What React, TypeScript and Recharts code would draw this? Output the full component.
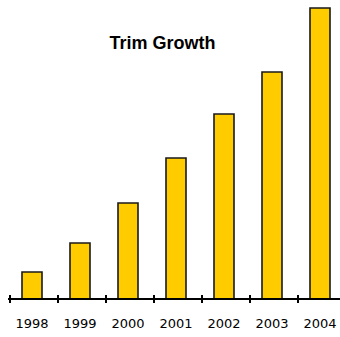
import React from 'react';
import { BarChart, Bar, XAxis, YAxis } from 'recharts';

const categories = ['1998', '1999', '2000', '2001', '2002', '2003', '2004'];
const values = [27, 56, 96, 141, 185, 227, 291];
const title = 'Trim Growth';

const data = categories.map((c, i) => ({ year: c, value: values[i] }));

const YearTick = (props: any) => {
  const { x, y, payload } = props;
  const off = payload && payload.offset ? payload.offset : 24;
  return (
    <g>
      <line x1={x - off + 2} x2={x - off + 2} y1={y - 4} y2={y + 4} stroke="#000" strokeWidth={2} />
      <text x={x} y={y + 29} textAnchor="middle" fontFamily="DejaVu Sans" fontSize={13} fill="#000">
        {payload.value}
      </text>
    </g>
  );
};

export default function App() {
  return (
    <div style={{ position: 'absolute', left: 0, top: 0, width: 340, height: 337, overflow: 'hidden', background: '#fff' }}>
      <div
        style={{
          position: 'absolute',
          left: 0,
          width: 325,
          top: 33,
          textAlign: 'center',
          fontFamily: 'Liberation Sans',
          fontWeight: 'bold',
          fontSize: 18,
          lineHeight: '20px',
          color: '#000',
        }}
      >
        {title}
      </div>
      <BarChart width={344} height={337} data={data} margin={{ top: 8, right: 0, left: 8, bottom: 8 }} barCategoryGap={0}>
        <YAxis hide domain={[0, 291]} />
        <XAxis
          dataKey="year"
          height={30}
          axisLine={{ stroke: '#000', strokeWidth: 2 }}
          tickLine={false}
          tickSize={0}
          tickMargin={0}
          tick={<YearTick />}
          interval={0}
        />
        <Bar dataKey="value" fill="#FFCC00" stroke="#1a1a1a" strokeWidth={1.6} barSize={20} isAnimationActive={false} />
      </BarChart>
    </div>
  );
}
